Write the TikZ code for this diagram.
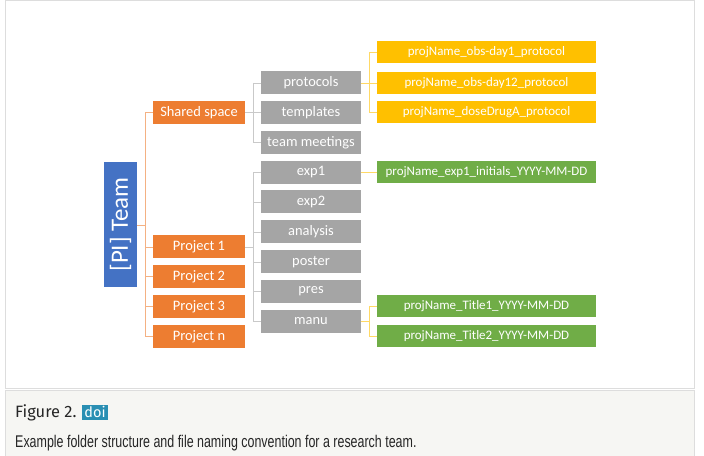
\documentclass[tikz,border=0pt]{standalone}
\usepackage{fontspec}
\setmainfont{Carlito}
\newfontfamily\capfont{Fira Sans}
\newfontfamily\bodyfont[FakeStretch=0.735]{Liberation Sans}
\definecolor{cblue}{HTML}{4472C4}
\definecolor{corange}{HTML}{ED7D31}
\definecolor{cgray}{HTML}{A5A5A5}
\definecolor{cyellow}{HTML}{FFC000}
\definecolor{cgreen}{HTML}{70AD47}
\definecolor{lorange}{HTML}{F4B183}
\definecolor{lgray}{HTML}{C9C9C9}
\definecolor{lyellow}{HTML}{FFD966}
\definecolor{frame}{HTML}{DDDDDD}
\definecolor{capbg}{HTML}{F6F6F3}
\definecolor{doicol}{HTML}{2A8FB3}
\begin{document}
\begin{tikzpicture}[x=1bp,y=-1bp,
  box/.style={inner sep=0pt,text=white,font=\fontsize{14.5}{16}\selectfont},
  obox/.style={box,fill=corange,minimum width=92bp,minimum height=23bp},
  gbox/.style={box,fill=cgray,minimum width=100bp,minimum height=23bp},
  fbox/.style={box,minimum width=219bp,minimum height=22bp,font=\fontsize{13}{14}\selectfont},
  ybox/.style={fbox,fill=cyellow},
  grbox/.style={fbox,fill=cgreen},
  oline/.style={draw=lorange,line width=0.9bp},
  gline/.style={draw=lgray,line width=0.9bp},
  yline/.style={draw=lyellow,line width=0.9bp}]
\useasboundingbox (0,0) rectangle (704,456);
% frames
\draw[frame,line width=1bp] (5,0.5) rectangle (694,388);
\draw[frame,fill=capbg,line width=1bp] (5,390) rectangle (694,460);
% root
\node[box,fill=cblue,minimum width=33bp,minimum height=125bp] (pi) at (120.5,224.5) {};
\node[text=white,rotate=90,font=\fontsize{25}{27}\selectfont] (pit) at (pi.center) {[PI] Team};
% level 1
\node[obox] (ss) at (199,112.5) {Shared space};
\node[obox] (p1) at (199,247) {Project 1};
\node[obox] (p2) at (199,276.5) {Project 2};
\node[obox] (p3) at (199,306.5) {Project 3};
\node[obox] (pn) at (199,336.5) {Project n};
% level 2
\node[gbox] (prot) at (311,83) {protocols};
\node[gbox] (tmpl) at (311,112.5) {templates};
\node[gbox] (team) at (311,142.5) {team meetings};
\node[gbox] (exp1) at (311,172.5) {exp1};
\node[gbox] (exp2) at (311,202) {exp2};
\node[gbox] (anal) at (311,232) {analysis};
\node[gbox] (post) at (311,262) {poster};
\node[gbox] (pres) at (311,291.5) {pres};
\node[gbox] (manu) at (311,321.5) {manu};
% level 3
\node[ybox] (f1) at (486.5,52.5) {projName\_obs-day1\_protocol};
\node[ybox] (f2) at (486.5,83) {projName\_obs-day12\_protocol};
\node[ybox] (f3) at (486.5,112.5) {projName\_doseDrugA\_protocol};
\node[grbox] (f4) at (486.5,172.5) {projName\_exp1\_initials\_YYYY-MM-DD};
\node[grbox] (f5) at (486.5,306) {projName\_Title1\_YYYY-MM-DD};
\node[grbox] (f6) at (486.5,336) {projName\_Title2\_YYYY-MM-DD};
% connectors level 1
\coordinate (j1) at (145,225);
\draw[oline] (pi.east |- j1) -- (j1);
\draw[oline] (j1 |- ss.west) -- (j1 |- pn.west);
\foreach \n in {ss,p1,p2,p3,pn} \draw[oline] (j1 |- \n.west) -- (\n.west);
% connectors level 2
\coordinate (j2) at (253,0);
\draw[gline] (ss.east) -- (j2 |- ss.east);
\draw[gline] (j2 |- prot.west) -- (j2 |- team.west);
\foreach \n in {prot,tmpl,team} \draw[gline] (j2 |- \n.west) -- (\n.west);
\draw[gline] (p1.east) -- (j2 |- p1.east);
\draw[gline] (j2 |- exp1.west) -- (j2 |- manu.west);
\foreach \n in {exp1,exp2,anal,post,pres,manu} \draw[gline] (j2 |- \n.west) -- (\n.west);
% connectors level 3
\coordinate (j3) at (369,0);
\draw[yline] (prot.east) -- (j3 |- prot.east);
\draw[yline] (j3 |- f1.west) -- (j3 |- f3.west);
\foreach \n in {f1,f2,f3} \draw[yline] (j3 |- \n.west) -- (\n.west);
\draw[yline] (exp1.east) -- (f4.west);
\draw[yline] (manu.east) -- (j3 |- manu.east);
\draw[yline] (j3 |- f5.west) -- (j3 |- f6.west);
\foreach \n in {f5,f6} \draw[yline] (j3 |- \n.west) -- (\n.west);
% caption
\node[anchor=base west,inner sep=0pt,font=\capfont\fontsize{16.5}{18}\selectfont,text=black!85] (fig) at (15,417) {Figure 2.};
\node[anchor=west,fill=doicol,text=white,inner xsep=2.5bp,inner ysep=1.5bp,font=\capfont\fontsize{14.5}{15}\selectfont] (doi) at ([xshift=5bp]fig.east) {doi};
\node[anchor=base west,inner sep=0pt,font=\bodyfont\fontsize{17}{19}\selectfont,text=black!85] (cap) at (15,447) {Example folder structure and file naming convention for a research team.};
\end{tikzpicture}
\end{document}
